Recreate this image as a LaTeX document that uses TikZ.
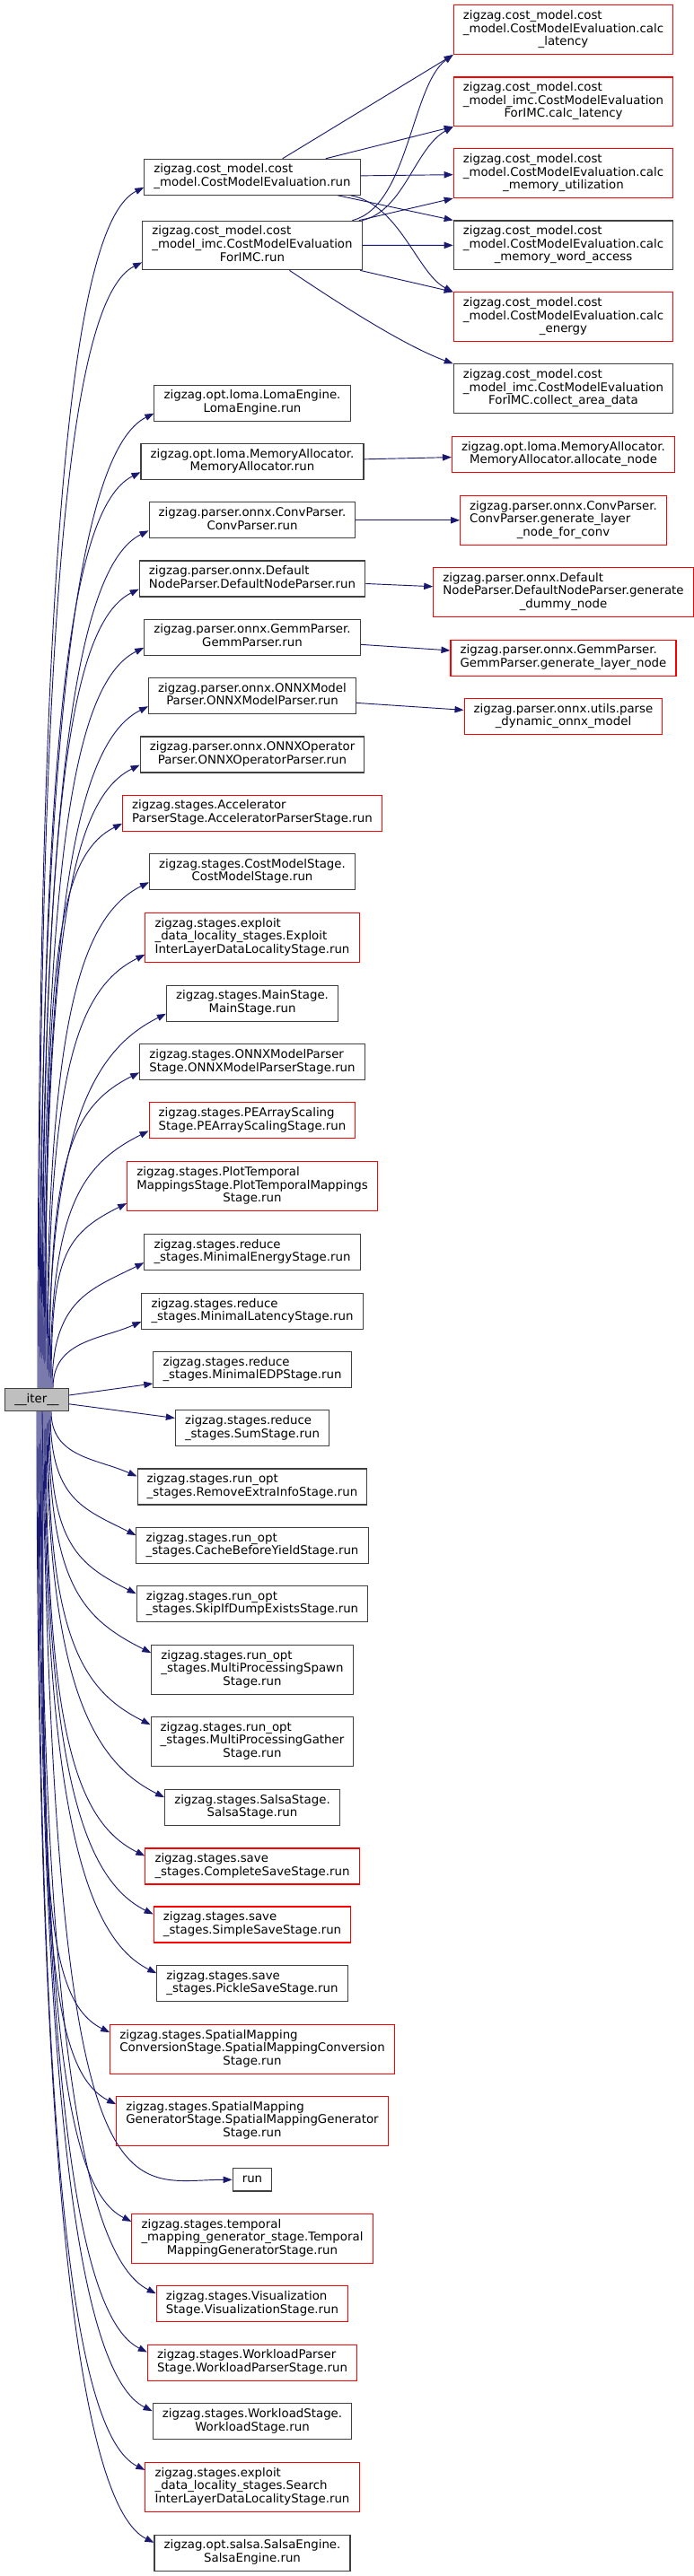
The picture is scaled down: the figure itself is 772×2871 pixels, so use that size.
\documentclass[tikz,border=0pt]{standalone}
\usepackage{fontspec}
\setmainfont{DejaVu Sans}
\usetikzlibrary{arrows.meta, calc}
\definecolor{zzblue}{RGB}{25, 25, 112}
\definecolor{zzgray}{RGB}{64, 64, 64}
\definecolor{zzred}{RGB}{255, 0, 0}
\definecolor{zzfill}{RGB}{191, 191, 191}
\newcommand{\twoline}[2]{\begin{tabular}{@{}l@{}}#1\\\multicolumn{1}{@{}c@{}}{#2}\end{tabular}}
\newcommand{\threeline}[3]{\begin{tabular}{@{}l@{}}#1\\#2\\\multicolumn{1}{@{}c@{}}{#3}\end{tabular}}
\tikzset{
  fnbox/.style={draw=zzgray, line width=0.8pt, fill=white, inner xsep=8pt, inner ysep=0pt, minimum height=30pt},
  trunc/.style={fnbox, draw=zzred},
  lowbox/.style={minimum height=19pt},
  tallbox/.style={minimum height=41pt},
  callarr/.style={draw=zzblue, line width=0.7pt, -{Triangle[length=7.5pt, width=5.5pt]}}
}

\begin{document}
\begin{tikzpicture}[x=0.75pt, y=-0.75pt, font=\fontsize{10}{11}\selectfont]
\useasboundingbox (0, 0) rectangle (772, 2871);

% --- Nodo llamador ---
\node[fnbox, lowbox, fill=zzfill] (iter) at (41, 1560) {\_\_iter\_\_};

% --- Columna central ---
\node[fnbox] (cmerun) at (281, 197.3) {\twoline{zigzag.cost\_model.cost}{\_model.CostModelEvaluation.run}};
\node[fnbox, tallbox] (imcrun) at (281, 273.5) {\threeline{zigzag.cost\_model.cost}{\_model\_imc.CostModelEvaluation}{ForIMC.run}};
\node[fnbox] (loma) at (281, 449.2) {\twoline{zigzag.opt.loma.LomaEngine.}{LomaEngine.run}};
\node[fnbox] (memalloc) at (281, 514.7) {\twoline{zigzag.opt.loma.MemoryAllocator.}{MemoryAllocator.run}};
\node[fnbox] (convp) at (281, 579.8) {\twoline{zigzag.parser.onnx.ConvParser.}{ConvParser.run}};
\node[fnbox] (defaultp) at (281, 645) {\twoline{zigzag.parser.onnx.Default}{NodeParser.DefaultNodeParser.run}};
\node[fnbox] (gemmp) at (281, 710.3) {\twoline{zigzag.parser.onnx.GemmParser.}{GemmParser.run}};
\node[fnbox] (onnxmp) at (281, 775.7) {\twoline{zigzag.parser.onnx.ONNXModel}{Parser.ONNXModelParser.run}};
\node[fnbox] (onnxop) at (281, 841) {\twoline{zigzag.parser.onnx.ONNXOperator}{Parser.ONNXOperatorParser.run}};
\node[trunc] (accps) at (281, 906.3) {\twoline{zigzag.stages.Accelerator}{ParserStage.AcceleratorParserStage.run}};
\node[fnbox] (cmstage) at (281, 971.7) {\twoline{zigzag.stages.CostModelStage.}{CostModelStage.run}};
\node[trunc, tallbox] (exploit) at (281, 1045) {\threeline{zigzag.stages.exploit}{\_data\_locality\_stages.Exploit}{InterLayerDataLocalityStage.run}};
\node[fnbox] (mainst) at (281, 1118.3) {\twoline{zigzag.stages.MainStage.}{MainStage.run}};
\node[fnbox] (onnxps) at (281, 1183.8) {\twoline{zigzag.stages.ONNXModelParser}{Stage.ONNXModelParserStage.run}};
\node[trunc] (peas) at (281, 1248.8) {\twoline{zigzag.stages.PEArrayScaling}{Stage.PEArrayScalingStage.run}};
\node[trunc, tallbox] (plottm) at (281, 1322.2) {\threeline{zigzag.stages.PlotTemporal}{MappingsStage.PlotTemporalMappings}{Stage.run}};
\node[fnbox] (minen) at (281, 1395.7) {\twoline{zigzag.stages.reduce}{\_stages.MinimalEnergyStage.run}};
\node[fnbox] (minlat) at (281, 1461.4) {\twoline{zigzag.stages.reduce}{\_stages.MinimalLatencyStage.run}};
\node[fnbox] (minedp) at (281, 1526.6) {\twoline{zigzag.stages.reduce}{\_stages.MinimalEDPStage.run}};
\node[fnbox] (sumst) at (281, 1591.9) {\twoline{zigzag.stages.reduce}{\_stages.SumStage.run}};
\node[fnbox] (rmextra) at (281, 1657) {\twoline{zigzag.stages.run\_opt}{\_stages.RemoveExtraInfoStage.run}};
\node[fnbox] (cacheby) at (281, 1722.6) {\twoline{zigzag.stages.run\_opt}{\_stages.CacheBeforeYieldStage.run}};
\node[fnbox] (skipdump) at (281, 1787.7) {\twoline{zigzag.stages.run\_opt}{\_stages.SkipIfDumpExistsStage.run}};
\node[fnbox, tallbox] (mpspawn) at (281, 1861) {\threeline{zigzag.stages.run\_opt}{\_stages.MultiProcessingSpawn}{Stage.run}};
\node[fnbox, tallbox] (mpgather) at (281, 1941) {\threeline{zigzag.stages.run\_opt}{\_stages.MultiProcessingGather}{Stage.run}};
\node[fnbox] (salsast) at (281, 2014.7) {\twoline{zigzag.stages.SalsaStage.}{SalsaStage.run}};
\node[trunc] (compsave) at (281, 2080) {\twoline{zigzag.stages.save}{\_stages.CompleteSaveStage.run}};
\node[trunc] (simpsave) at (281, 2145) {\twoline{zigzag.stages.save}{\_stages.SimpleSaveStage.run}};
\node[fnbox] (picksave) at (281, 2210.7) {\twoline{zigzag.stages.save}{\_stages.PickleSaveStage.run}};
\node[trunc, tallbox] (smconv) at (281, 2284) {\threeline{zigzag.stages.SpatialMapping}{ConversionStage.SpatialMappingConversion}{Stage.run}};
\node[trunc, tallbox] (smgen) at (281, 2364) {\threeline{zigzag.stages.SpatialMapping}{GeneratorStage.SpatialMappingGenerator}{Stage.run}};
\node[fnbox, lowbox] (run) at (281, 2429.3) {run};
\node[trunc, tallbox] (tmgen) at (281, 2494.8) {\threeline{zigzag.stages.temporal}{\_mapping\_generator\_stage.Temporal}{MappingGeneratorStage.run}};
\node[trunc] (visst) at (281, 2567.7) {\twoline{zigzag.stages.Visualization}{Stage.VisualizationStage.run}};
\node[trunc] (wlparse) at (281, 2633) {\twoline{zigzag.stages.WorkloadParser}{Stage.WorkloadParserStage.run}};
\node[fnbox] (wlstage) at (281, 2698.7) {\twoline{zigzag.stages.WorkloadStage.}{WorkloadStage.run}};
\node[trunc, tallbox] (search) at (281, 2771.7) {\threeline{zigzag.stages.exploit}{\_data\_locality\_stages.Search}{InterLayerDataLocalityStage.run}};
\node[fnbox] (salsaeng) at (281, 2845.3) {\twoline{zigzag.opt.salsa.SalsaEngine.}{SalsaEngine.run}};

% --- Columna derecha ---
\node[trunc, tallbox] (calclat) at (627.5, 33.2) {\threeline{zigzag.cost\_model.cost}{\_model.CostModelEvaluation.calc}{\_latency}};
\node[trunc, tallbox] (imclat) at (627.5, 113.3) {\threeline{zigzag.cost\_model.cost}{\_model\_imc.CostModelEvaluation}{ForIMC.calc\_latency}};
\node[trunc, tallbox] (calcmem) at (627.5, 193.2) {\threeline{zigzag.cost\_model.cost}{\_model.CostModelEvaluation.calc}{\_memory\_utilization}};
\node[fnbox, tallbox] (calcwa) at (627.5, 273.3) {\threeline{zigzag.cost\_model.cost}{\_model.CostModelEvaluation.calc}{\_memory\_word\_access}};
\node[trunc, tallbox] (calcen) at (627.5, 353.2) {\threeline{zigzag.cost\_model.cost}{\_model.CostModelEvaluation.calc}{\_energy}};
\node[fnbox, tallbox] (areadata) at (627.5, 433.2) {\threeline{zigzag.cost\_model.cost}{\_model\_imc.CostModelEvaluation}{ForIMC.collect\_area\_data}};
\node[trunc] (allocnode) at (627.5, 506.7) {\twoline{zigzag.opt.loma.MemoryAllocator.}{MemoryAllocator.allocate\_node}};
\node[trunc, tallbox] (genconv) at (627.5, 579.8) {\threeline{zigzag.parser.onnx.ConvParser.}{ConvParser.generate\_layer}{\_node\_for\_conv}};
\node[trunc, tallbox] (gendummy) at (627.5, 660) {\threeline{zigzag.parser.onnx.Default}{NodeParser.DefaultNodeParser.generate}{\_dummy\_node}};
\node[trunc] (genlayer) at (627.5, 733.3) {\twoline{zigzag.parser.onnx.GemmParser.}{GemmParser.generate\_layer\_node}};
\node[trunc] (parsedyn) at (627.5, 798.7) {\twoline{zigzag.parser.onnx.utils.parse}{\_dynamic\_onnx\_model}};

% --- Llamadas desde __iter__ hacia arriba ---
\foreach \n/\sx/\cy/\ex/\ey in {cmerun/1/-937/-80/40, imcrun/2/-879/-80/40, loma/3/-761/-80/40,
    memalloc/4/-715/-80/40, convp/5/-669/-80/40, defaultp/6/-624/-80/40, gemmp/7/-578/-80/40,
    onnxmp/8/-532/-80/40, onnxop/9/-487/-80/40, accps/10/-441/-80/40, cmstage/11/-395/-80/40,
    exploit/12/-339/-80/40, mainst/13/-293/-80/40, onnxps/14/-246/-80/40, peas/15/-201/-75/38,
    plottm/16/-145/-70/35, minen/17/-98/-60/30, minlat/18/-53/-45/20} {
    \draw[callarr] ($(iter.north)+(\sx,0)$) .. controls +(0,\cy) and +(\ex,\ey) .. ($(\n.south west)+(0,-9)$);
}
\draw[callarr] (iter) -- (minedp);
\draw[callarr] (iter) -- (sumst);

% --- Llamadas desde __iter__ hacia abajo ---
\foreach \n/\sx/\cy/\ex/\ey in {rmextra/16/51/-45/-20, cacheby/15/97/-60/-30, skipdump/14/143/-70/-35,
    mpspawn/13/189/-80/-40, mpgather/12/245/-80/-40, salsast/11/302/-80/-40, compsave/10/347/-80/-40,
    simpsave/9/393/-80/-40, picksave/8/439/-80/-40, smconv/7/485/-80/-40, smgen/6/541/-80/-40,
    tmgen/5/633/-80/-40, visst/4/689/-80/-40, wlparse/3/734/-80/-40, wlstage/2/781/-80/-40,
    search/1/826/-80/-40, salsaeng/0/883/-80/-40} {
    \draw[callarr] ($(iter.south)+(\sx,0)$) .. controls +(0,\cy) and +(\ex,\ey) .. ($(\n.north west)+(0,9)$);
}
\draw[callarr] ($(iter.south)+(6,0)$) .. controls +(13,927) and +(-119,0) .. (run.west);

% --- Llamadas de la columna central ---
\draw[callarr] (cmerun) -- (calclat.south west);
\draw[callarr] (cmerun) -- (imclat.south west);
\draw[callarr] (cmerun) -- (calcmem);
\draw[callarr] (cmerun) -- (calcwa.north west);
\draw[callarr] (cmerun) .. controls (445, 228) and (465, 305) .. (calcen.north west);
\draw[callarr] (imcrun) .. controls (455, 230) and (458, 95) .. (calclat.south west);
\draw[callarr] (imcrun) .. controls (450, 235) and (462, 165) .. (imclat.south west);
\draw[callarr] (imcrun) -- (calcmem.south west);
\draw[callarr] (imcrun) -- (calcwa);
\draw[callarr] (imcrun) -- (calcen.north west);
\draw[callarr] (imcrun) .. controls (380, 340) and (450, 385) .. (areadata.north west);
\draw[callarr] (memalloc) -- (allocnode);
\draw[callarr] (convp) -- (genconv);
\draw[callarr] (defaultp) -- (gendummy);
\draw[callarr] (gemmp) -- (genlayer);
\draw[callarr] (onnxmp) -- (parsedyn);

\end{tikzpicture}
\end{document}
